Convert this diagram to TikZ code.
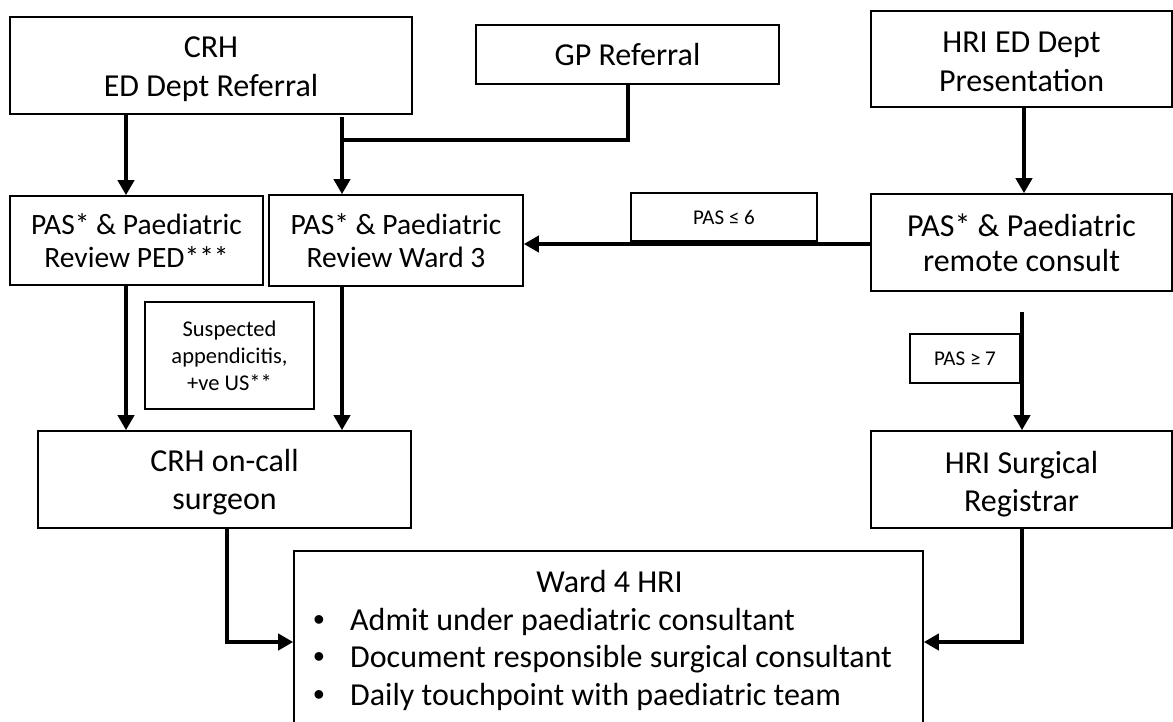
\documentclass[tikz,border=0pt]{standalone}
\usepackage{fontspec}
\setmainfont{Carlito}
\newfontfamily\bulletfont{Liberation Sans}
\usetikzlibrary{arrows.meta}
\newcommand\fsz[2]{\fontsize{#1}{#2}\selectfont}
\newcommand\sh[1]{\rule{0pt}{#1pt}}
\tikzset{
  box/.style={draw, line width=1.6pt, align=center, inner sep=0pt},
  lbl/.style={draw, line width=1.4pt, align=center, inner sep=0pt},
  arr/.style={line width=4pt, -{Triangle[width=16pt,length=15pt]}},
  ln/.style={line width=4pt},
  txt/.style={inner sep=0pt, anchor=base west, font=\fsz{32}{38}}
}
\begin{document}
\begin{tikzpicture}[x=1pt,y=-1pt]
\useasboundingbox (0,0) rectangle (1173,721);
\clip (0,0) rectangle (1173,721);
% boxes
\node[box, minimum width=402pt, minimum height=97pt, font=\fsz{32}{38.5}] (crh) at (211,65.5) {\sh{28.5}CRH\\ED Dept Referral};
\node[box, minimum width=303pt, minimum height=59pt, font=\fsz{32}{38}] (gp) at (627.5,54.5) {GP Referral};
\node[box, minimum width=301pt, minimum height=96pt, font=\fsz{32}{39}] (hried) at (1021.5,59) {\sh{25.6}HRI ED Dept\\Presentation};
\node[box, minimum width=253pt, minimum height=89pt, font=\fsz{29.5}{33}] (ped) at (136.5,240.5) {PAS* \& Paediatric\\Review PED***};
\node[box, minimum width=254pt, minimum height=91pt, font=\fsz{29.5}{33}] (ward3) at (396,240.5) {PAS* \& Paediatric\\Review Ward 3};
\node[box, minimum width=301pt, minimum height=97pt, font=\fsz{32}{35}] (remote) at (1021.5,242.5) {PAS* \& Paediatric\\remote consult};
\node[lbl, minimum width=186pt, minimum height=48pt, font=\fsz{21}{25}] (pas6) at (724,217) {PAS ≤ 6};
\node[lbl, minimum width=169pt, minimum height=107pt, font=\fsz{22.5}{27}] (susp) at (229.5,355.5) {Suspected\\appendicitis,\\+ve US**};
\node[box, minimum width=373pt, minimum height=97pt, font=\fsz{32}{38.5}] (oncall) at (224.5,479.5) {\sh{27.5}CRH on-call\\surgeon};
\node[lbl, minimum width=110pt, minimum height=49pt, font=\fsz{21}{25}] (pas7) at (965,358.5) {PAS ≥ 7};
\node[box, minimum width=301pt, minimum height=97pt, font=\fsz{32}{38}] (hrisurg) at (1021.5,479.5) {\sh{31}HRI Surgical\\Registrar};
\node[box, minimum width=629pt, minimum height=209pt] (ward4) at (608.5,655.5) {};
% ward 4 contents
\node[txt, anchor=base] (w4title) at (609.5,592) {Ward 4 HRI};
\node[txt, anchor=base, font=\fsz{32}{38}\bulletfont] (b1) at (319,630) {•};
\node[txt] (t1) at (350,630) {Admit under paediatric consultant};
\node[txt, anchor=base, font=\fsz{32}{38}\bulletfont] (b2) at (319,667) {•};
\node[txt] (t2) at (350,667) {Document responsible surgical consultant};
\node[txt, anchor=base, font=\fsz{32}{38}\bulletfont] (b3) at (319,705) {•};
\node[txt] (t3) at (350,705) {Daily touchpoint with paediatric team};
% helper coordinates
\coordinate (xa) at (126,0);
\coordinate (xb) at (342,0);
\coordinate (xgp) at (628,0);
\coordinate (jn) at (342,140);
\coordinate (xh) at (1024,0);
\coordinate (y6) at (0,244);
\coordinate (r7) at (1022,312);
\coordinate (xo) at (227,0);
\coordinate (xs) at (1022,0);
\coordinate (y4) at (0,642);
% connectors
\draw[arr] (crh.south -| xa) -- (ped.north -| xa);
\draw[arr] ([yshift=-2pt]crh.south -| xb) -- (ward3.north -| xb);
\draw[ln] (gp.south -| xgp) |- (jn);
\draw[arr] (hried.south -| xh) -- (remote.north -| xh);
\draw[arr] (remote.west |- y6) -- (ward3.east |- y6);
\draw[arr] (r7) -- (hrisurg.north -| r7);
\draw[arr] (ped.south -| xa) -- (oncall.north -| xa);
\draw[arr] (ward3.south -| xb) -- (oncall.north -| xb);
\draw[arr] (oncall.south -| xo) |- (ward4.west |- y4);
\draw[arr] (hrisurg.south -| xs) |- (ward4.east |- y4);
\end{tikzpicture}
\end{document}
